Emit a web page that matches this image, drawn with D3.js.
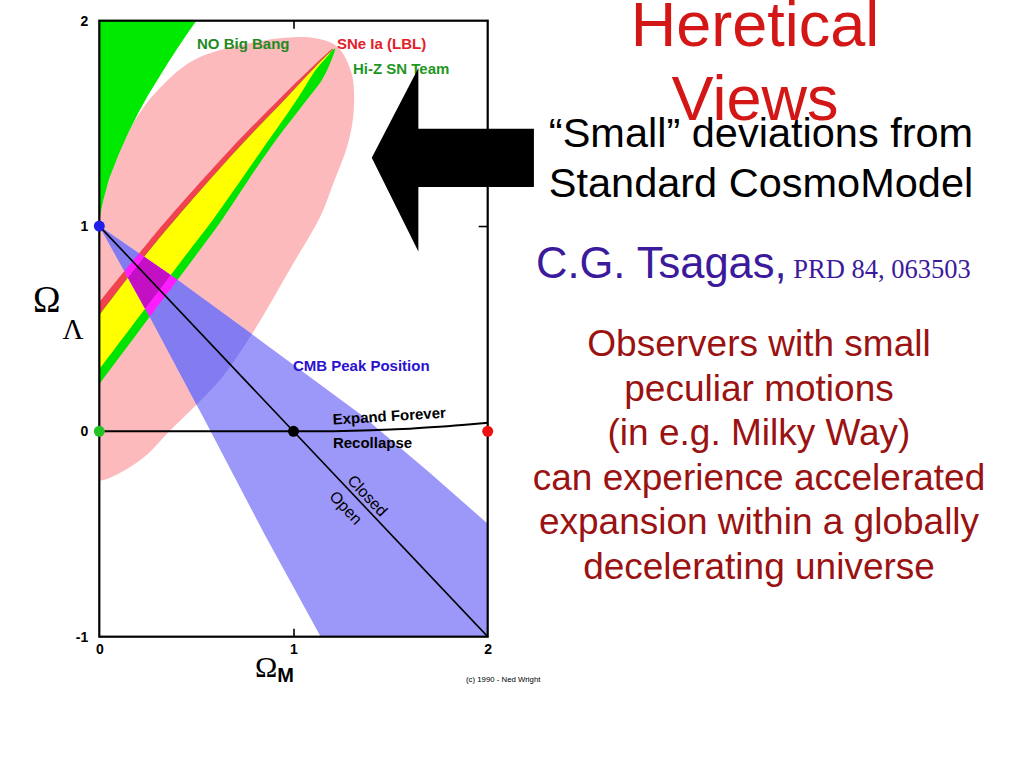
<!DOCTYPE html>
<html><head><meta charset="utf-8">
<script src="https://cdn.jsdelivr.net/npm/d3@7"></script>
<style>body{margin:0;background:#fff}svg{display:block}</style>
</head><body>
<svg id="c" width="1024" height="768"></svg>
<script>
// ---------- data (Omega_M, Omega_Lambda) ----------
const xTicks = [0, 1, 2];
const yTicks = [-1, 0, 1, 2];
const xTickLabels = ["0", "1", "2"];
const yTickLabels = ["-1", "0", "1", "2"];

// "No Big Bang" boundary
const noBigBang = [[0,1],[0.005,1.05],[0.01,1.08],[0.02,1.124],[0.05,1.229],[0.1,1.349],[0.15,1.455],
  [0.2,1.549],[0.25,1.636],[0.3,1.713],[0.35,1.789],[0.4,1.862],[0.45,1.933],[0.5,2.0],[0,2.0]];

// large pink confidence region
const pinkRegion = [[0.20,1.54],[0.32,1.68],[0.49,1.81],[0.77,1.89],[1.00,1.92],[1.14,1.91],[1.23,1.87],
  [1.30,1.74],[1.31,1.56],[1.28,1.40],[1.21,1.22],[1.14,1.05],[1.00,0.82],[0.79,0.48],[0.63,0.26],
  [0.49,0.12],[0.36,0.00],[0.25,-0.11],[0.11,-0.20],[0.0,-0.24],[-0.12,-0.22],[-0.2,0.1],[-0.16,0.6],
  [-0.05,1.0],[0.07,1.3]];

// SNe Ia (LBL) contour
const lblContour = [[1.203,1.864],[1.083,1.762],[0.925,1.616],[0.673,1.372],[0.349,1.031],[0.220,0.885],
  [-0.002,0.627],[-0.305,0.266],[-0.383,0.096],[-0.305,-0.075],[-0.002,0.301],[0.467,0.885],[0.585,1.031],
  [0.838,1.372],[1.018,1.616],[1.116,1.762],[1.178,1.830]];

// Hi-Z SN Team contour
const hizContour = [[1.214,1.864],[1.193,1.850],[1.100,1.762],[0.956,1.616],[0.709,1.372],[0.390,1.031],
  [0.261,0.885],[-0.002,0.564],[-0.305,0.189],[-0.383,0.008],[-0.305,-0.157],[-0.002,0.228],[0.519,0.885],
  [0.632,1.031],[0.874,1.372],[1.070,1.616],[1.147,1.713],[1.188,1.791]];

// CMB peak position wedge
const cmbWedge = [[0,1],[0.4,0.74],[0.79,0.47],[1.35,0.08],[1.7,-0.2],[2.0,-0.45],[2.3,-0.7],[2.3,-1.3],
  [1.3,-1.3],[1.14,-1.0],[0.85,-0.5],[0.54,0.06],[0.27,0.54]];

// flat universe line and expand/recollapse boundary
const flatLine = [[0,1],[2,-1]];
const recollapse = [[0,0],[1,0],[1.2,0.001],[1.4,0.005],[1.5,0.009],[1.6,0.013],[1.75,0.022],[1.9,0.033],[2,0.042]];

// special points
const dotM = [0, 0, 1, 2];
const dotL = [1, 0, 0, 0];
const dotColors = ["#1f1fe8", "#22c422", "#000000", "#ee1111"];

// arrow annotation (in data units)
const arrowShape = [[1.403,1.333],[1.643,1.770],[1.643,1.474],[2.238,1.474],[2.238,1.190],[1.643,1.190],[1.643,0.876]];

// chart labels
const chartLabels = [
  {t:"NO Big Bang", m:0.503, l:1.864, c:"#238a23", rot:0},
  {t:"SNe Ia (LBL)", m:1.224, l:1.864, c:"#e3202a", rot:0},
  {t:"Hi-Z SN Team", m:1.306, l:1.742, c:"#1f961f", rot:0},
  {t:"CMB Peak Position", m:0.997, l:0.296, c:"#2a12d0", rot:0},
  {t:"Expand Forever", m:1.203, l:0.033, c:"#000", rot:-3.5},
  {t:"Recollapse", m:1.203, l:-0.079, c:"#000", rot:0}
];
const lineLabels = [{t:"Closed", m:1.381, l:-0.313}, {t:"Open", m:1.270, l:-0.372}];

// slide text
const titleLines = ["Heretical", "Views"];
const subtitleLines = ["\u201CSmall\u201D deviations from", "Standard CosmoModel"];
const author = "C.G. Tsagas,";
const reference = "PRD 84, 063503";
const bodyLines = ["Observers with small", "peculiar motions", "(in e.g. Milky Way)",
  "can experience accelerated", "expansion within a globally", "decelerating universe"];
const credit = "(c) 1990 - Ned Wright";

// ---------- drawing ----------
const svg = d3.select("#c");
const defs = svg.append("defs");
const x = d3.scaleLinear().domain([0, 2]).range([99.3, 487.7]);
const y = d3.scaleLinear().domain([-1, 2]).range([636.7, 20.7]);
const lin = d3.line().x(d => x(d[0])).y(d => y(d[1]));
const smooth = d3.line().x(d => x(d[0])).y(d => y(d[1])).curve(d3.curveCatmullRomClosed.alpha(0.5));

const pinkD = smooth(pinkRegion), lblD = smooth(lblContour), hizD = smooth(hizContour);
const wedgeD = lin(cmbWedge) + "Z";
const nbbD = lin(noBigBang) + "Z";

defs.append("clipPath").attr("id", "plot").append("rect")
  .attr("x", x(0)).attr("y", y(2)).attr("width", x(2) - x(0)).attr("height", y(-1) - y(2));
defs.append("clipPath").attr("id", "cpPink").append("path").attr("d", pinkD);
defs.append("clipPath").attr("id", "cpLbl").append("path").attr("d", lblD);
defs.append("clipPath").attr("id", "cpWedge").append("path").attr("d", wedgeD);

const g = svg.append("g").attr("clip-path", "url(#plot)");
g.append("path").attr("d", pinkD).attr("fill", "#fcbabd");
g.append("path").attr("d", nbbD).attr("fill", "#00ea00");
g.append("path").attr("d", lblD).attr("fill", "#f0424f");
g.append("path").attr("d", hizD).attr("fill", "#00e400");
g.append("path").attr("d", hizD).attr("fill", "#ffff00").attr("clip-path", "url(#cpLbl)");
g.append("path").attr("d", wedgeD).attr("fill", "#9c98fa");
g.append("path").attr("d", wedgeD).attr("fill", "#827cf0").attr("clip-path", "url(#cpPink)");
const gw = g.append("g").attr("clip-path", "url(#cpWedge)");
gw.append("path").attr("d", lblD).attr("fill", "#ff1cff");
gw.append("path").attr("d", hizD).attr("fill", "#ff1cff");
gw.append("path").attr("d", hizD).attr("fill", "#c410c4").attr("clip-path", "url(#cpLbl)");

g.append("path").attr("d", lin(flatLine)).attr("fill", "none").attr("stroke", "#000").attr("stroke-width", 1.6);
g.append("path").attr("d", d3.line().x(d => x(d[0])).y(d => y(d[1])).curve(d3.curveMonotoneX)(recollapse))
  .attr("fill", "none").attr("stroke", "#000").attr("stroke-width", 2);

// frame
svg.append("rect").attr("x", x(0)).attr("y", y(2)).attr("width", x(2) - x(0)).attr("height", y(-1) - y(2))
  .attr("fill", "none").attr("stroke", "#000").attr("stroke-width", 2.2);

// inner ticks
const tickStyle = sel => { sel.select(".domain").remove(); sel.selectAll("line").attr("stroke", "#000").attr("stroke-width", 1.6); };
svg.append("g").attr("transform", `translate(0,${y(2)})`).call(d3.axisTop(x).tickValues([1]).tickSize(-8).tickFormat("")).call(tickStyle);
svg.append("g").attr("transform", `translate(0,${y(-1)})`).call(d3.axisBottom(x).tickValues([1]).tickSize(-8).tickFormat("")).call(tickStyle);
svg.append("g").attr("transform", `translate(${x(2)},0)`).call(d3.axisRight(y).tickValues([1]).tickSize(-9).tickFormat("")).call(tickStyle);

// tick labels
const labStyle = sel => { sel.select(".domain").remove(); sel.selectAll("line").remove();
  sel.selectAll("text").attr("font-family", "Liberation Sans, Arial, sans-serif").attr("font-weight", "bold")
    .attr("font-size", 14).attr("fill", "#000"); };
svg.append("g").attr("transform", `translate(${x(0)},0)`)
  .call(d3.axisLeft(y).tickValues(yTicks).tickSize(0).tickPadding(11).tickFormat((d, i) => yTickLabels[i])).call(labStyle);
svg.append("g").attr("transform", `translate(0,${y(-1)})`)
  .call(d3.axisBottom(x).tickValues(xTicks).tickSize(0).tickPadding(7).tickFormat((d, i) => xTickLabels[i])).call(labStyle);

// dots
svg.selectAll("circle.pt").data(dotM).join("circle").attr("class", "pt")
  .attr("cx", d => x(d)).attr("cy", (d, i) => y(dotL[i])).attr("r", 5.5).attr("fill", (d, i) => dotColors[i]);

// chart labels
chartLabels.forEach(L => {
  svg.append("text").attr("x", x(L.m)).attr("y", y(L.l)).text(L.t)
    .attr("transform", `rotate(${L.rot},${x(L.m)},${y(L.l)})`)
    .attr("font-family", "Liberation Sans, Arial, sans-serif").attr("font-weight", "bold")
    .attr("font-size", 15).attr("fill", L.c);
});
const ang = Math.atan2(y(flatLine[1][1]) - y(flatLine[0][1]), x(flatLine[1][0]) - x(flatLine[0][0])) * 180 / Math.PI;
lineLabels.forEach(L => {
  svg.append("text").attr("x", x(L.m)).attr("y", y(L.l)).text(L.t)
    .attr("transform", `rotate(${ang},${x(L.m)},${y(L.l)})`)
    .attr("text-anchor", "middle").attr("dominant-baseline", "central")
    .attr("font-family", "Liberation Sans, Arial, sans-serif").attr("font-size", 16).attr("fill", "#000");
});

// axis titles
const om = svg.append("text").attr("x", 255).attr("y", 677);
om.append("tspan").text("\u03A9").attr("font-family", "Liberation Serif, Times New Roman, serif").attr("font-size", 30);
om.append("tspan").text("M").attr("dy", 5).attr("font-family", "Liberation Sans, Arial, sans-serif").attr("font-weight", "bold").attr("font-size", 20);
const ol = svg.append("text").attr("x", 33).attr("y", 312);
ol.append("tspan").text("\u03A9").attr("font-family", "Liberation Serif, Times New Roman, serif").attr("font-size", 37);
ol.append("tspan").text("\u039B").attr("dx", 2).attr("dy", 27).attr("font-family", "Liberation Serif, Times New Roman, serif").attr("font-size", 29);

svg.append("text").attr("x", 466).attr("y", 682).text(credit)
  .attr("font-family", "Liberation Sans, Arial, sans-serif").attr("font-size", 7.8).attr("fill", "#000");

// arrow
svg.append("path").attr("d", lin(arrowShape) + "Z").attr("fill", "#000");

// slide text
const sans = "Liberation Sans, Arial, sans-serif";
svg.append("text").attr("x", 755).attr("y", 46).attr("text-anchor", "middle").text(titleLines[0])
  .attr("font-family", sans).attr("font-size", 63).attr("fill", "#d31616");
subtitleLines.forEach((t, i) => {
  svg.append("text").attr("x", 761).attr("y", 147 + i * 50).attr("text-anchor", "middle").text(t)
    .attr("font-family", sans).attr("font-size", 41.5).attr("fill", "#000");
});
svg.append("text").attr("x", 755).attr("y", 120).attr("text-anchor", "middle").text(titleLines[1])
  .attr("font-family", sans).attr("font-size", 63).attr("fill", "#d31616");

const au = svg.append("text").attr("x", 536).attr("y", 278);
au.append("tspan").text(author).attr("font-family", sans).attr("font-size", 43.5).attr("fill", "#3b1a9c");
au.append("tspan").text(" " + reference).attr("font-family", "Liberation Serif, Times New Roman, serif").attr("font-size", 26.5).attr("fill", "#3b1a9c");

bodyLines.forEach((t, i) => {
  svg.append("text").attr("x", 759).attr("y", 356 + i * 44.5).attr("text-anchor", "middle").text(t)
    .attr("font-family", sans).attr("font-size", 37).attr("fill", "#9a1212");
});
</script>
</body></html>
